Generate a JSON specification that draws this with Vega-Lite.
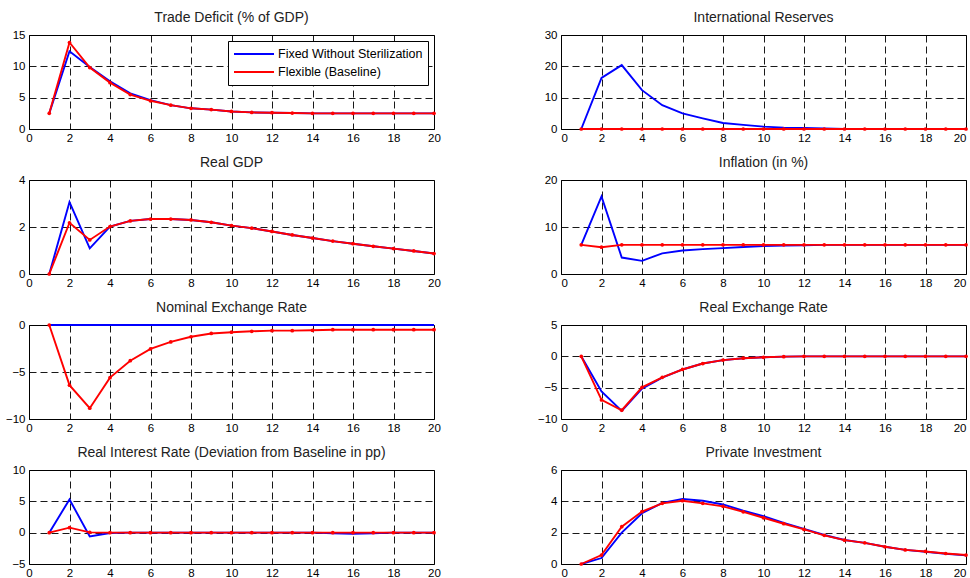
{
"$schema":"https://vega.github.io/schema/vega-lite/v6.json",
"padding":{"left":4,"top":10,"right":0,"bottom":0},
"background":"white",
"config":{
 "font":"Liberation Sans",
 "view":{"stroke":"black","strokeWidth":1},
 "axis":{"grid":true,"gridColor":"black","gridDash":[7,4],"gridOpacity":0.9,"gridWidth":1,"domain":false,"ticks":false,"labelFlush":false,"labelFont":"Liberation Sans","labelFontSize":11.5,"labelColor":"black","labelPadding":3,"title":null},
 "axisY":{"labelPadding":4},
 "title":{"font":"Liberation Sans","fontSize":14,"fontWeight":"normal","color":"#222","offset":4},
 "line":{"strokeWidth":1.9}
},
"resolve":{"scale":{"color":"independent"},"legend":{"color":"independent"}},
"data":{"values":[
{"p":"TD","s":"Fixed","t":1,"v":2.5},{"p":"TD","s":"Fixed","t":2,"v":12.4},{"p":"TD","s":"Fixed","t":3,"v":9.9},{"p":"TD","s":"Fixed","t":4,"v":7.6},{"p":"TD","s":"Fixed","t":5,"v":5.7},{"p":"TD","s":"Fixed","t":6,"v":4.6},{"p":"TD","s":"Fixed","t":7,"v":3.8},{"p":"TD","s":"Fixed","t":8,"v":3.3},{"p":"TD","s":"Fixed","t":9,"v":3.1},{"p":"TD","s":"Fixed","t":10,"v":2.8},{"p":"TD","s":"Fixed","t":11,"v":2.65},{"p":"TD","s":"Fixed","t":12,"v":2.6},{"p":"TD","s":"Fixed","t":13,"v":2.55},{"p":"TD","s":"Fixed","t":14,"v":2.5},{"p":"TD","s":"Fixed","t":15,"v":2.5},{"p":"TD","s":"Fixed","t":16,"v":2.5},{"p":"TD","s":"Fixed","t":17,"v":2.5},{"p":"TD","s":"Fixed","t":18,"v":2.5},{"p":"TD","s":"Fixed","t":19,"v":2.5},{"p":"TD","s":"Fixed","t":20,"v":2.5},
{"p":"TD","s":"Flex","t":1,"v":2.5},{"p":"TD","s":"Flex","t":2,"v":13.8},{"p":"TD","s":"Flex","t":3,"v":9.8},{"p":"TD","s":"Flex","t":4,"v":7.4},{"p":"TD","s":"Flex","t":5,"v":5.5},{"p":"TD","s":"Flex","t":6,"v":4.5},{"p":"TD","s":"Flex","t":7,"v":3.8},{"p":"TD","s":"Flex","t":8,"v":3.3},{"p":"TD","s":"Flex","t":9,"v":3.1},{"p":"TD","s":"Flex","t":10,"v":2.8},{"p":"TD","s":"Flex","t":11,"v":2.65},{"p":"TD","s":"Flex","t":12,"v":2.6},{"p":"TD","s":"Flex","t":13,"v":2.55},{"p":"TD","s":"Flex","t":14,"v":2.5},{"p":"TD","s":"Flex","t":15,"v":2.5},{"p":"TD","s":"Flex","t":16,"v":2.5},{"p":"TD","s":"Flex","t":17,"v":2.5},{"p":"TD","s":"Flex","t":18,"v":2.5},{"p":"TD","s":"Flex","t":19,"v":2.5},{"p":"TD","s":"Flex","t":20,"v":2.5},
{"p":"IR","s":"Fixed","t":1,"v":0},{"p":"IR","s":"Fixed","t":2,"v":16.3},{"p":"IR","s":"Fixed","t":3,"v":20.4},{"p":"IR","s":"Fixed","t":4,"v":12.4},{"p":"IR","s":"Fixed","t":5,"v":7.6},{"p":"IR","s":"Fixed","t":6,"v":5.0},{"p":"IR","s":"Fixed","t":7,"v":3.4},{"p":"IR","s":"Fixed","t":8,"v":1.9},{"p":"IR","s":"Fixed","t":9,"v":1.3},{"p":"IR","s":"Fixed","t":10,"v":0.75},{"p":"IR","s":"Fixed","t":11,"v":0.45},{"p":"IR","s":"Fixed","t":12,"v":0.3},{"p":"IR","s":"Fixed","t":13,"v":0.15},{"p":"IR","s":"Fixed","t":14,"v":0.05},{"p":"IR","s":"Fixed","t":15,"v":0},{"p":"IR","s":"Fixed","t":16,"v":0},{"p":"IR","s":"Fixed","t":17,"v":0},{"p":"IR","s":"Fixed","t":18,"v":0},{"p":"IR","s":"Fixed","t":19,"v":0},{"p":"IR","s":"Fixed","t":20,"v":0},
{"p":"IR","s":"Flex","t":1,"v":0},{"p":"IR","s":"Flex","t":2,"v":0},{"p":"IR","s":"Flex","t":3,"v":0},{"p":"IR","s":"Flex","t":4,"v":0},{"p":"IR","s":"Flex","t":5,"v":0},{"p":"IR","s":"Flex","t":6,"v":0},{"p":"IR","s":"Flex","t":7,"v":0},{"p":"IR","s":"Flex","t":8,"v":0},{"p":"IR","s":"Flex","t":9,"v":0},{"p":"IR","s":"Flex","t":10,"v":0},{"p":"IR","s":"Flex","t":11,"v":0},{"p":"IR","s":"Flex","t":12,"v":0},{"p":"IR","s":"Flex","t":13,"v":0},{"p":"IR","s":"Flex","t":14,"v":0},{"p":"IR","s":"Flex","t":15,"v":0},{"p":"IR","s":"Flex","t":16,"v":0},{"p":"IR","s":"Flex","t":17,"v":0},{"p":"IR","s":"Flex","t":18,"v":0},{"p":"IR","s":"Flex","t":19,"v":0},{"p":"IR","s":"Flex","t":20,"v":0},
{"p":"GDP","s":"Fixed","t":1,"v":0},{"p":"GDP","s":"Fixed","t":2,"v":3.06},{"p":"GDP","s":"Fixed","t":3,"v":1.09},{"p":"GDP","s":"Fixed","t":4,"v":2.02},{"p":"GDP","s":"Fixed","t":5,"v":2.26},{"p":"GDP","s":"Fixed","t":6,"v":2.34},{"p":"GDP","s":"Fixed","t":7,"v":2.34},{"p":"GDP","s":"Fixed","t":8,"v":2.3},{"p":"GDP","s":"Fixed","t":9,"v":2.2},{"p":"GDP","s":"Fixed","t":10,"v":2.06},{"p":"GDP","s":"Fixed","t":11,"v":1.95},{"p":"GDP","s":"Fixed","t":12,"v":1.81},{"p":"GDP","s":"Fixed","t":13,"v":1.66},{"p":"GDP","s":"Fixed","t":14,"v":1.53},{"p":"GDP","s":"Fixed","t":15,"v":1.4},{"p":"GDP","s":"Fixed","t":16,"v":1.29},{"p":"GDP","s":"Fixed","t":17,"v":1.18},{"p":"GDP","s":"Fixed","t":18,"v":1.08},{"p":"GDP","s":"Fixed","t":19,"v":0.98},{"p":"GDP","s":"Fixed","t":20,"v":0.87},
{"p":"GDP","s":"Flex","t":1,"v":0},{"p":"GDP","s":"Flex","t":2,"v":2.18},{"p":"GDP","s":"Flex","t":3,"v":1.45},{"p":"GDP","s":"Flex","t":4,"v":2.02},{"p":"GDP","s":"Flex","t":5,"v":2.26},{"p":"GDP","s":"Flex","t":6,"v":2.34},{"p":"GDP","s":"Flex","t":7,"v":2.34},{"p":"GDP","s":"Flex","t":8,"v":2.3},{"p":"GDP","s":"Flex","t":9,"v":2.2},{"p":"GDP","s":"Flex","t":10,"v":2.06},{"p":"GDP","s":"Flex","t":11,"v":1.95},{"p":"GDP","s":"Flex","t":12,"v":1.81},{"p":"GDP","s":"Flex","t":13,"v":1.66},{"p":"GDP","s":"Flex","t":14,"v":1.53},{"p":"GDP","s":"Flex","t":15,"v":1.4},{"p":"GDP","s":"Flex","t":16,"v":1.29},{"p":"GDP","s":"Flex","t":17,"v":1.18},{"p":"GDP","s":"Flex","t":18,"v":1.08},{"p":"GDP","s":"Flex","t":19,"v":0.98},{"p":"GDP","s":"Flex","t":20,"v":0.87},
{"p":"INF","s":"Fixed","t":1,"v":6.2},{"p":"INF","s":"Fixed","t":2,"v":16.5},{"p":"INF","s":"Fixed","t":3,"v":3.5},{"p":"INF","s":"Fixed","t":4,"v":2.8},{"p":"INF","s":"Fixed","t":5,"v":4.4},{"p":"INF","s":"Fixed","t":6,"v":5.0},{"p":"INF","s":"Fixed","t":7,"v":5.3},{"p":"INF","s":"Fixed","t":8,"v":5.5},{"p":"INF","s":"Fixed","t":9,"v":5.75},{"p":"INF","s":"Fixed","t":10,"v":5.95},{"p":"INF","s":"Fixed","t":11,"v":6.05},{"p":"INF","s":"Fixed","t":12,"v":6.1},{"p":"INF","s":"Fixed","t":13,"v":6.2},{"p":"INF","s":"Fixed","t":14,"v":6.2},{"p":"INF","s":"Fixed","t":15,"v":6.2},{"p":"INF","s":"Fixed","t":16,"v":6.2},{"p":"INF","s":"Fixed","t":17,"v":6.2},{"p":"INF","s":"Fixed","t":18,"v":6.2},{"p":"INF","s":"Fixed","t":19,"v":6.2},{"p":"INF","s":"Fixed","t":20,"v":6.2},
{"p":"INF","s":"Flex","t":1,"v":6.2},{"p":"INF","s":"Flex","t":2,"v":5.7},{"p":"INF","s":"Flex","t":3,"v":6.2},{"p":"INF","s":"Flex","t":4,"v":6.2},{"p":"INF","s":"Flex","t":5,"v":6.2},{"p":"INF","s":"Flex","t":6,"v":6.2},{"p":"INF","s":"Flex","t":7,"v":6.2},{"p":"INF","s":"Flex","t":8,"v":6.2},{"p":"INF","s":"Flex","t":9,"v":6.2},{"p":"INF","s":"Flex","t":10,"v":6.2},{"p":"INF","s":"Flex","t":11,"v":6.2},{"p":"INF","s":"Flex","t":12,"v":6.2},{"p":"INF","s":"Flex","t":13,"v":6.2},{"p":"INF","s":"Flex","t":14,"v":6.2},{"p":"INF","s":"Flex","t":15,"v":6.2},{"p":"INF","s":"Flex","t":16,"v":6.2},{"p":"INF","s":"Flex","t":17,"v":6.2},{"p":"INF","s":"Flex","t":18,"v":6.2},{"p":"INF","s":"Flex","t":19,"v":6.2},{"p":"INF","s":"Flex","t":20,"v":6.2},
{"p":"NER","s":"Fixed","t":1,"v":0},{"p":"NER","s":"Fixed","t":2,"v":0},{"p":"NER","s":"Fixed","t":3,"v":0},{"p":"NER","s":"Fixed","t":4,"v":0},{"p":"NER","s":"Fixed","t":5,"v":0},{"p":"NER","s":"Fixed","t":6,"v":0},{"p":"NER","s":"Fixed","t":7,"v":0},{"p":"NER","s":"Fixed","t":8,"v":0},{"p":"NER","s":"Fixed","t":9,"v":0},{"p":"NER","s":"Fixed","t":10,"v":0},{"p":"NER","s":"Fixed","t":11,"v":0},{"p":"NER","s":"Fixed","t":12,"v":0},{"p":"NER","s":"Fixed","t":13,"v":0},{"p":"NER","s":"Fixed","t":14,"v":0},{"p":"NER","s":"Fixed","t":15,"v":0},{"p":"NER","s":"Fixed","t":16,"v":0},{"p":"NER","s":"Fixed","t":17,"v":0},{"p":"NER","s":"Fixed","t":18,"v":0},{"p":"NER","s":"Fixed","t":19,"v":0},{"p":"NER","s":"Fixed","t":20,"v":0},
{"p":"NER","s":"Flex","t":1,"v":0},{"p":"NER","s":"Flex","t":2,"v":-6.4},{"p":"NER","s":"Flex","t":3,"v":-8.85},{"p":"NER","s":"Flex","t":4,"v":-5.6},{"p":"NER","s":"Flex","t":5,"v":-3.8},{"p":"NER","s":"Flex","t":6,"v":-2.55},{"p":"NER","s":"Flex","t":7,"v":-1.8},{"p":"NER","s":"Flex","t":8,"v":-1.25},{"p":"NER","s":"Flex","t":9,"v":-0.9},{"p":"NER","s":"Flex","t":10,"v":-0.77},{"p":"NER","s":"Flex","t":11,"v":-0.67},{"p":"NER","s":"Flex","t":12,"v":-0.6},{"p":"NER","s":"Flex","t":13,"v":-0.6},{"p":"NER","s":"Flex","t":14,"v":-0.56},{"p":"NER","s":"Flex","t":15,"v":-0.5},{"p":"NER","s":"Flex","t":16,"v":-0.5},{"p":"NER","s":"Flex","t":17,"v":-0.5},{"p":"NER","s":"Flex","t":18,"v":-0.5},{"p":"NER","s":"Flex","t":19,"v":-0.5},{"p":"NER","s":"Flex","t":20,"v":-0.5},
{"p":"RER","s":"Fixed","t":1,"v":0},{"p":"RER","s":"Fixed","t":2,"v":-5.6},{"p":"RER","s":"Fixed","t":3,"v":-8.7},{"p":"RER","s":"Fixed","t":4,"v":-5.15},{"p":"RER","s":"Fixed","t":5,"v":-3.4},{"p":"RER","s":"Fixed","t":6,"v":-2.1},{"p":"RER","s":"Fixed","t":7,"v":-1.15},{"p":"RER","s":"Fixed","t":8,"v":-0.6},{"p":"RER","s":"Fixed","t":9,"v":-0.3},{"p":"RER","s":"Fixed","t":10,"v":-0.15},{"p":"RER","s":"Fixed","t":11,"v":-0.05},{"p":"RER","s":"Fixed","t":12,"v":0},{"p":"RER","s":"Fixed","t":13,"v":0},{"p":"RER","s":"Fixed","t":14,"v":0},{"p":"RER","s":"Fixed","t":15,"v":0},{"p":"RER","s":"Fixed","t":16,"v":0},{"p":"RER","s":"Fixed","t":17,"v":0},{"p":"RER","s":"Fixed","t":18,"v":0},{"p":"RER","s":"Fixed","t":19,"v":0},{"p":"RER","s":"Fixed","t":20,"v":0},
{"p":"RER","s":"Flex","t":1,"v":0},{"p":"RER","s":"Flex","t":2,"v":-6.95},{"p":"RER","s":"Flex","t":3,"v":-8.6},{"p":"RER","s":"Flex","t":4,"v":-4.95},{"p":"RER","s":"Flex","t":5,"v":-3.35},{"p":"RER","s":"Flex","t":6,"v":-2.1},{"p":"RER","s":"Flex","t":7,"v":-1.15},{"p":"RER","s":"Flex","t":8,"v":-0.6},{"p":"RER","s":"Flex","t":9,"v":-0.3},{"p":"RER","s":"Flex","t":10,"v":-0.15},{"p":"RER","s":"Flex","t":11,"v":-0.05},{"p":"RER","s":"Flex","t":12,"v":0},{"p":"RER","s":"Flex","t":13,"v":0},{"p":"RER","s":"Flex","t":14,"v":0},{"p":"RER","s":"Flex","t":15,"v":0},{"p":"RER","s":"Flex","t":16,"v":0},{"p":"RER","s":"Flex","t":17,"v":0},{"p":"RER","s":"Flex","t":18,"v":0},{"p":"RER","s":"Flex","t":19,"v":0},{"p":"RER","s":"Flex","t":20,"v":0},
{"p":"RIR","s":"Fixed","t":1,"v":0},{"p":"RIR","s":"Fixed","t":2,"v":5.3},{"p":"RIR","s":"Fixed","t":3,"v":-0.6},{"p":"RIR","s":"Fixed","t":4,"v":-0.05},{"p":"RIR","s":"Fixed","t":5,"v":0},{"p":"RIR","s":"Fixed","t":6,"v":0},{"p":"RIR","s":"Fixed","t":7,"v":0},{"p":"RIR","s":"Fixed","t":8,"v":0},{"p":"RIR","s":"Fixed","t":9,"v":0},{"p":"RIR","s":"Fixed","t":10,"v":0},{"p":"RIR","s":"Fixed","t":11,"v":0},{"p":"RIR","s":"Fixed","t":12,"v":0},{"p":"RIR","s":"Fixed","t":13,"v":0},{"p":"RIR","s":"Fixed","t":14,"v":0},{"p":"RIR","s":"Fixed","t":15,"v":-0.1},{"p":"RIR","s":"Fixed","t":16,"v":-0.2},{"p":"RIR","s":"Fixed","t":17,"v":-0.1},{"p":"RIR","s":"Fixed","t":18,"v":0},{"p":"RIR","s":"Fixed","t":19,"v":0},{"p":"RIR","s":"Fixed","t":20,"v":0},
{"p":"RIR","s":"Flex","t":1,"v":0},{"p":"RIR","s":"Flex","t":2,"v":0.8},{"p":"RIR","s":"Flex","t":3,"v":0.05},{"p":"RIR","s":"Flex","t":4,"v":0},{"p":"RIR","s":"Flex","t":5,"v":0},{"p":"RIR","s":"Flex","t":6,"v":0},{"p":"RIR","s":"Flex","t":7,"v":0},{"p":"RIR","s":"Flex","t":8,"v":0},{"p":"RIR","s":"Flex","t":9,"v":0},{"p":"RIR","s":"Flex","t":10,"v":0},{"p":"RIR","s":"Flex","t":11,"v":0},{"p":"RIR","s":"Flex","t":12,"v":0},{"p":"RIR","s":"Flex","t":13,"v":0},{"p":"RIR","s":"Flex","t":14,"v":0},{"p":"RIR","s":"Flex","t":15,"v":0},{"p":"RIR","s":"Flex","t":16,"v":0},{"p":"RIR","s":"Flex","t":17,"v":0},{"p":"RIR","s":"Flex","t":18,"v":0},{"p":"RIR","s":"Flex","t":19,"v":0},{"p":"RIR","s":"Flex","t":20,"v":0},
{"p":"PI","s":"Fixed","t":1,"v":0},{"p":"PI","s":"Fixed","t":2,"v":0.38},{"p":"PI","s":"Fixed","t":3,"v":2.0},{"p":"PI","s":"Fixed","t":4,"v":3.24},{"p":"PI","s":"Fixed","t":5,"v":3.9},{"p":"PI","s":"Fixed","t":6,"v":4.15},{"p":"PI","s":"Fixed","t":7,"v":4.04},{"p":"PI","s":"Fixed","t":8,"v":3.8},{"p":"PI","s":"Fixed","t":9,"v":3.4},{"p":"PI","s":"Fixed","t":10,"v":3.05},{"p":"PI","s":"Fixed","t":11,"v":2.62},{"p":"PI","s":"Fixed","t":12,"v":2.24},{"p":"PI","s":"Fixed","t":13,"v":1.85},{"p":"PI","s":"Fixed","t":14,"v":1.53},{"p":"PI","s":"Fixed","t":15,"v":1.35},{"p":"PI","s":"Fixed","t":16,"v":1.1},{"p":"PI","s":"Fixed","t":17,"v":0.9},{"p":"PI","s":"Fixed","t":18,"v":0.78},{"p":"PI","s":"Fixed","t":19,"v":0.65},{"p":"PI","s":"Fixed","t":20,"v":0.55},
{"p":"PI","s":"Flex","t":1,"v":0},{"p":"PI","s":"Flex","t":2,"v":0.57},{"p":"PI","s":"Flex","t":3,"v":2.38},{"p":"PI","s":"Flex","t":4,"v":3.35},{"p":"PI","s":"Flex","t":5,"v":3.87},{"p":"PI","s":"Flex","t":6,"v":4.04},{"p":"PI","s":"Flex","t":7,"v":3.87},{"p":"PI","s":"Flex","t":8,"v":3.68},{"p":"PI","s":"Flex","t":9,"v":3.33},{"p":"PI","s":"Flex","t":10,"v":2.95},{"p":"PI","s":"Flex","t":11,"v":2.57},{"p":"PI","s":"Flex","t":12,"v":2.21},{"p":"PI","s":"Flex","t":13,"v":1.83},{"p":"PI","s":"Flex","t":14,"v":1.52},{"p":"PI","s":"Flex","t":15,"v":1.35},{"p":"PI","s":"Flex","t":16,"v":1.1},{"p":"PI","s":"Flex","t":17,"v":0.9},{"p":"PI","s":"Flex","t":18,"v":0.8},{"p":"PI","s":"Flex","t":19,"v":0.67},{"p":"PI","s":"Flex","t":20,"v":0.57}
]},
"columns":2,
"spacing":{"row":11,"column":95},
"concat":[
{"title":"Trade Deficit (% of GDP)","width":405,"height":94,
 "transform":[{"filter":"datum.p=='TD'"}],
 "encoding":{"x":{"field":"t","type":"quantitative","scale":{"domain":[0,20],"nice":false},"axis":{"values":[0,2,4,6,8,10,12,14,16,18,20]}},
  "y":{"field":"v","type":"quantitative","scale":{"domain":[0,15],"nice":false,"zero":false},"axis":{"values":[0,5,10,15]}},
  "color":{"field":"s","type":"nominal","scale":{"domain":["Fixed","Flex"],"range":["#0000ff","#ff0000"]},
   "legend":{"title":null,"orient":"top-right","offset":6,"labelExpr":"datum.label=='Fixed'?'Fixed Without Sterilization':'Flexible (Baseline)'","symbolType":"stroke","symbolSize":1600,"clipHeight":16,"symbolStrokeWidth":2,"labelFontSize":12.5,"labelFont":"Liberation Sans","labelColor":"black","strokeColor":"black","fillColor":"white","padding":5,"rowPadding":2,"labelOffset":3}}},
 "layer":[{"mark":{"type":"line"},"transform":[{"filter":"datum.s=='Fixed'"}]},{"mark":{"type":"line","point":{"filled":true,"size":14}},"transform":[{"filter":"datum.s=='Flex'"}]}]},
{"title":"International Reserves","width":405,"height":94,
 "transform":[{"filter":"datum.p=='IR'"}],
 "encoding":{"x":{"field":"t","type":"quantitative","scale":{"domain":[0,20],"nice":false},"axis":{"values":[0,2,4,6,8,10,12,14,16,18,20],"labelFlush":true}},
  "y":{"field":"v","type":"quantitative","scale":{"domain":[0,30],"nice":false,"zero":false},"axis":{"values":[0,10,20,30]}},
  "color":{"field":"s","type":"nominal","scale":{"domain":["Fixed","Flex"],"range":["#0000ff","#ff0000"]},"legend":null}},
 "layer":[{"mark":{"type":"line"},"transform":[{"filter":"datum.s=='Fixed'"}]},{"mark":{"type":"line","point":{"filled":true,"size":14}},"transform":[{"filter":"datum.s=='Flex'"}]}]},
{"title":"Real GDP","width":405,"height":94,
 "transform":[{"filter":"datum.p=='GDP'"}],
 "encoding":{"x":{"field":"t","type":"quantitative","scale":{"domain":[0,20],"nice":false},"axis":{"values":[0,2,4,6,8,10,12,14,16,18,20]}},
  "y":{"field":"v","type":"quantitative","scale":{"domain":[0,4],"nice":false,"zero":false},"axis":{"values":[0,2,4]}},
  "color":{"field":"s","type":"nominal","scale":{"domain":["Fixed","Flex"],"range":["#0000ff","#ff0000"]},"legend":null}},
 "layer":[{"mark":{"type":"line"},"transform":[{"filter":"datum.s=='Fixed'"}]},{"mark":{"type":"line","point":{"filled":true,"size":14}},"transform":[{"filter":"datum.s=='Flex'"}]}]},
{"title":"Inflation (in %)","width":405,"height":94,
 "transform":[{"filter":"datum.p=='INF'"}],
 "encoding":{"x":{"field":"t","type":"quantitative","scale":{"domain":[0,20],"nice":false},"axis":{"values":[0,2,4,6,8,10,12,14,16,18,20],"labelFlush":true}},
  "y":{"field":"v","type":"quantitative","scale":{"domain":[0,20],"nice":false,"zero":false},"axis":{"values":[0,10,20]}},
  "color":{"field":"s","type":"nominal","scale":{"domain":["Fixed","Flex"],"range":["#0000ff","#ff0000"]},"legend":null}},
 "layer":[{"mark":{"type":"line"},"transform":[{"filter":"datum.s=='Fixed'"}]},{"mark":{"type":"line","point":{"filled":true,"size":14}},"transform":[{"filter":"datum.s=='Flex'"}]}]},
{"title":"Nominal Exchange Rate","width":405,"height":94,
 "transform":[{"filter":"datum.p=='NER'"}],
 "encoding":{"x":{"field":"t","type":"quantitative","scale":{"domain":[0,20],"nice":false},"axis":{"values":[0,2,4,6,8,10,12,14,16,18,20]}},
  "y":{"field":"v","type":"quantitative","scale":{"domain":[-10,0],"nice":false,"zero":false},"axis":{"values":[-10,-5,0]}},
  "color":{"field":"s","type":"nominal","scale":{"domain":["Fixed","Flex"],"range":["#0000ff","#ff0000"]},"legend":null}},
 "layer":[{"mark":{"type":"line"},"transform":[{"filter":"datum.s=='Fixed'"}]},{"mark":{"type":"line","point":{"filled":true,"size":14}},"transform":[{"filter":"datum.s=='Flex'"}]}]},
{"title":"Real Exchange Rate","width":405,"height":94,
 "transform":[{"filter":"datum.p=='RER'"}],
 "encoding":{"x":{"field":"t","type":"quantitative","scale":{"domain":[0,20],"nice":false},"axis":{"values":[0,2,4,6,8,10,12,14,16,18,20],"labelFlush":true}},
  "y":{"field":"v","type":"quantitative","scale":{"domain":[-10,5],"nice":false,"zero":false},"axis":{"values":[-10,-5,0,5]}},
  "color":{"field":"s","type":"nominal","scale":{"domain":["Fixed","Flex"],"range":["#0000ff","#ff0000"]},"legend":null}},
 "layer":[{"mark":{"type":"line"},"transform":[{"filter":"datum.s=='Fixed'"}]},{"mark":{"type":"line","point":{"filled":true,"size":14}},"transform":[{"filter":"datum.s=='Flex'"}]}]},
{"title":"Real Interest Rate (Deviation from Baseline in pp)","width":405,"height":94,
 "transform":[{"filter":"datum.p=='RIR'"}],
 "encoding":{"x":{"field":"t","type":"quantitative","scale":{"domain":[0,20],"nice":false},"axis":{"values":[0,2,4,6,8,10,12,14,16,18,20]}},
  "y":{"field":"v","type":"quantitative","scale":{"domain":[-5,10],"nice":false,"zero":false},"axis":{"values":[-5,0,5,10]}},
  "color":{"field":"s","type":"nominal","scale":{"domain":["Fixed","Flex"],"range":["#0000ff","#ff0000"]},"legend":null}},
 "layer":[{"mark":{"type":"line"},"transform":[{"filter":"datum.s=='Fixed'"}]},{"mark":{"type":"line","point":{"filled":true,"size":14}},"transform":[{"filter":"datum.s=='Flex'"}]}]},
{"title":"Private Investment","width":405,"height":94,
 "transform":[{"filter":"datum.p=='PI'"}],
 "encoding":{"x":{"field":"t","type":"quantitative","scale":{"domain":[0,20],"nice":false},"axis":{"values":[0,2,4,6,8,10,12,14,16,18,20],"labelFlush":true}},
  "y":{"field":"v","type":"quantitative","scale":{"domain":[0,6],"nice":false,"zero":false},"axis":{"values":[0,2,4,6]}},
  "color":{"field":"s","type":"nominal","scale":{"domain":["Fixed","Flex"],"range":["#0000ff","#ff0000"]},"legend":null}},
 "layer":[{"mark":{"type":"line"},"transform":[{"filter":"datum.s=='Fixed'"}]},{"mark":{"type":"line","point":{"filled":true,"size":14}},"transform":[{"filter":"datum.s=='Flex'"}]}]}
]
}
